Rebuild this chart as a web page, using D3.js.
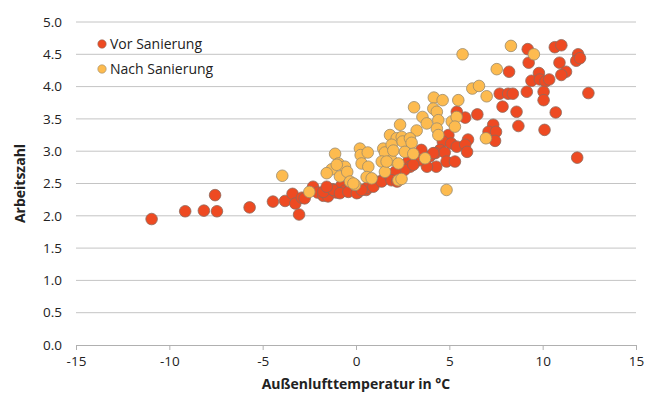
<!DOCTYPE html>
<html>
<head>
<meta charset="utf-8">
<script src="https://cdn.jsdelivr.net/npm/d3@7"></script>
<style>
  body { margin: 0; background: #fff; }
  text { font-family: "Open Sans", "Noto Sans", sans-serif; fill: #222; }
</style>
</head>
<body>
<script>
// Vor Sanierung: [temperature, Arbeitszahl]
var vorSanierung = [
  [-10.95,1.95],[-9.15,2.07],[-8.15,2.08],[-7.45,2.07],[-7.55,2.32],[-5.7,2.13],
  [-4.45,2.22],[-3.8,2.23],[-3.4,2.34],[-3.25,2.19],[-3.05,2.02],[-2.9,2.28],
  [-2.3,2.45],[-2.75,2.27],[-2.05,2.36],[-1.75,2.31],[-1.5,2.30],[-1.25,2.41],
  [-1.05,2.36],[-0.8,2.46],[-0.6,2.39],[-0.3,2.41],[0.1,2.36],[0.55,2.40],
  [0.75,2.48],[1.05,2.53],[1.4,2.55],[1.65,2.61],[1.9,2.63],[2.25,2.66],
  [-1.75,2.37],[-1.22,2.40],[-0.86,2.35],[-0.41,2.37],[0.04,2.35],[0.57,2.43],
  [0.93,2.45],[1.37,2.53],[1.82,2.61],[2.62,2.76],[2.8,2.84],[-1.57,2.45],[0.3,2.40],
  [7.7,3.89],[8.15,3.89],[7.85,3.69],[6.5,3.57],[5.85,3.52],[5.4,3.61],
  [7.35,3.41],[7.1,3.30],[7.5,3.30],[7.45,3.16],[4.95,3.25],[6.0,3.18],
  [4.65,3.15],[5.1,3.12],[5.4,3.07],[5.85,3.10],[5.95,2.99],[4.5,3.02],
  [4.25,2.97],[4.75,2.98],[3.95,2.92],[3.5,3.02],[4.85,2.84],[5.3,2.84],
  [4.3,2.76],[3.8,2.76],[3.4,2.86],[2.9,2.76],[2.6,2.71],[2.1,2.68],
  [1.9,2.55],[2.2,2.53],[3.07,2.79],[4.14,2.97],
  [9.2,4.58],[10.65,4.61],[11.0,4.64],[11.9,4.50],[11.8,4.40],[12.0,4.44],
  [9.25,4.37],[10.9,4.37],[8.2,4.23],[9.8,4.21],[11.25,4.23],[11.0,4.18],
  [9.4,4.09],[9.85,4.11],[10.15,4.08],[10.35,4.11],[8.4,3.89],[9.15,3.92],
  [10.05,3.92],[10.05,3.79],[12.45,3.90],[8.6,3.61],[10.7,3.60],[8.7,3.39],
  [10.1,3.33],[11.85,2.90]
];

// Nach Sanierung
var nachSanierung = [
  [-3.95,2.62],[-2.5,2.37],[-1.12,2.96],[-0.94,2.81],[-1.3,2.72],[-0.86,2.61],
  [-0.59,2.76],[-0.47,2.68],[-0.32,2.53],[-0.05,2.48],[0.21,3.04],[0.25,2.94],
  [0.63,2.98],[0.3,2.81],[0.66,2.76],[0.57,2.60],[1.46,3.04],[1.55,2.98],
  [1.38,2.84],[1.55,2.68],[1.82,3.25],[2.18,3.20],[2.27,2.55],[1.9,2.86],
  [-1.57,2.66],[-1.03,2.79],[-0.14,2.50],[0.84,2.58],[1.64,2.84],[2.45,3.22],
  [2.27,2.81],[1.91,3.10],[6.23,3.97],[6.59,4.01],[7.0,3.85],[4.17,3.83],
  [4.64,3.79],[5.48,3.79],[3.11,3.68],[3.56,3.53],[3.79,3.43],[4.14,3.66],
  [4.33,3.61],[4.41,3.48],[4.33,3.35],[4.41,3.25],[5.13,3.46],[5.39,3.53],
  [5.3,3.38],[2.36,3.41],[3.25,3.32],[2.5,3.15],[2.89,3.20],[2.98,3.13],
  [2.0,3.01],[2.62,2.99],[3.07,2.96],[3.7,2.89],[6.96,3.20],[2.44,2.57],
  [4.85,2.40],[8.3,4.63],[9.53,4.50],[5.71,4.50],[7.54,4.27]
];

var xTicks = [-15, -10, -5, 0, 5, 10, 15];
var yTicks = [0, 0.5, 1, 1.5, 2, 2.5, 3, 3.5, 4, 4.5, 5];

var width = 649, height = 394;
var margin = {top: 22, right: 13, bottom: 49, left: 76};

var svg = d3.select("body").append("svg")
    .attr("width", width)
    .attr("height", height);

var x = d3.scaleLinear().domain([-15, 15]).range([margin.left, width - margin.right]);
var y = d3.scaleLinear().domain([0, 5]).range([height - margin.bottom, margin.top]);

// gridlines
svg.append("g")
  .selectAll("line")
  .data(yTicks.filter(function(d) { return d > 0; }))
  .enter().append("line")
    .attr("x1", x(-15))
    .attr("x2", x(15))
    .attr("y1", function(d) { return y(d); })
    .attr("y2", function(d) { return y(d); })
    .attr("stroke", "#c4c4c4")
    .attr("stroke-width", 1);

// y labels
svg.append("g")
  .selectAll("text")
  .data(yTicks)
  .enter().append("text")
    .attr("x", 62)
    .attr("y", function(d) { return y(d); })
    .attr("dy", "0.35em")
    .attr("text-anchor", "end")
    .style("font-size", "13.5px")
    .text(function(d) { return d.toFixed(1); });

// x axis
var xAxis = svg.append("g")
    .attr("transform", "translate(0," + y(0) + ")")
    .call(d3.axisBottom(x).tickValues(xTicks).tickSize(5).tickPadding(6)
      .tickFormat(function(d) { return d; }));
xAxis.select(".domain").attr("stroke", "#b0b0b0");
xAxis.selectAll(".tick line").attr("stroke", "#b0b0b0");
xAxis.selectAll(".tick text")
    .style("font-size", "13.5px")
    .style("font-family", "'Open Sans', 'Noto Sans', sans-serif")
    .attr("fill", "#222");

// axis titles
svg.append("text")
    .attr("x", x(0))
    .attr("y", 389)
    .attr("text-anchor", "middle")
    .style("font-size", "14px")
    .style("font-weight", "bold")
    .text("Außenlufttemperatur in °C");

svg.append("text")
    .attr("transform", "translate(25," + y(2.5) + ") rotate(-90)")
    .attr("text-anchor", "middle")
    .style("font-size", "14px")
    .style("font-weight", "bold")
    .text("Arbeitszahl");

// points
function drawPoints(data, fill, stroke) {
  svg.append("g")
    .selectAll("circle")
    .data(data)
    .enter().append("circle")
      .attr("cx", function(d) { return x(d[0]); })
      .attr("cy", function(d) { return y(d[1]); })
      .attr("r", 5.8)
      .attr("fill", fill)
      .attr("stroke", stroke)
      .attr("stroke-width", 0.8);
}
drawPoints(vorSanierung, "#ee4a22", "#8e6a5c");
drawPoints(nachSanierung, "#fdbb4f", "#9a8a6c");

// legend
var legend = [
  {label: "Vor Sanierung", fill: "#ee4a22", stroke: "#8e6a5c"},
  {label: "Nach Sanierung", fill: "#fdbb4f", stroke: "#9a8a6c"}
];
var lg = svg.append("g").selectAll("g")
  .data(legend)
  .enter().append("g")
    .attr("transform", function(d, i) { return "translate(102," + (44 + i * 25) + ")"; });
lg.append("circle")
    .attr("r", 4.2)
    .attr("fill", function(d) { return d.fill; })
    .attr("stroke", function(d) { return d.stroke; })
    .attr("stroke-width", 0.6);
lg.append("text")
    .attr("x", 8)
    .attr("dy", "0.35em")
    .style("font-size", "14px")
    .text(function(d) { return d.label; });
</script>
</body>
</html>
